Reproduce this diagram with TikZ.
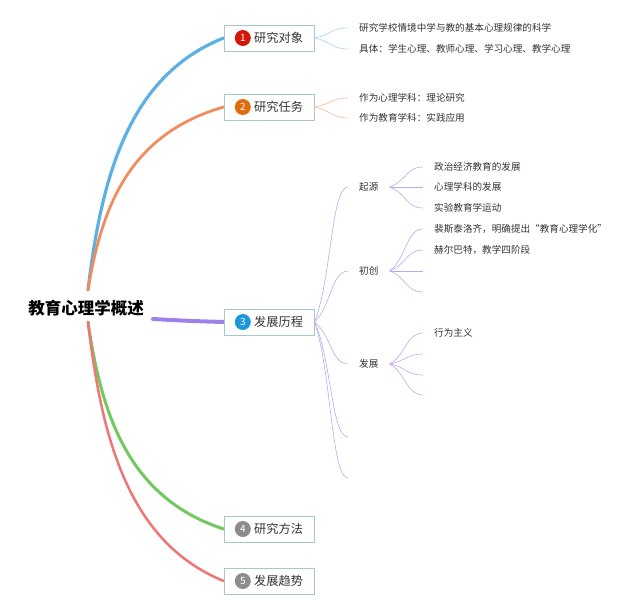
\documentclass[tikz,border=0pt]{standalone}
\usepackage{fontspec}
\setmainfont{Noto Sans CJK SC}
\usetikzlibrary{calc,positioning}
\pgfdeclarelayer{bg}
\pgfsetlayers{bg,main}
\definecolor{txt}{HTML}{333333}
\definecolor{boxLine}{HTML}{A8C8C4}
\definecolor{brBlue}{HTML}{5DB0E3}
\definecolor{brOrange}{HTML}{F28C5E}
\definecolor{brPurple}{HTML}{9C82E8}
\definecolor{brGreen}{HTML}{72C95E}
\definecolor{brRed}{HTML}{F07575}
\definecolor{subBlue}{HTML}{A6D2EE}
\definecolor{subOrange}{HTML}{F5B89E}
\definecolor{subPurple}{HTML}{B9AAF0}
\definecolor{dotRed}{HTML}{D4170A}
\definecolor{dotOrange}{HTML}{E06C0E}
\definecolor{dotBlue}{HTML}{1E96DA}
\definecolor{dotGrey}{HTML}{8C8C8C}
\tikzstyle{topic}=[draw=boxLine,fill=white,line width=0.8pt,minimum width=90pt,minimum height=26pt,inner sep=0pt]
\tikzstyle{numdot}=[circle,inner sep=0pt,minimum size=16pt,text=white,font=\fontsize{10}{10}\selectfont]
\tikzstyle{toptext}=[inner sep=0pt,text=txt,font=\fontsize{12.2}{14}\selectfont]
\tikzstyle{leaf}=[anchor=west,inner xsep=11pt,inner ysep=1pt,text=txt,font=\fontsize{9.6}{11}\selectfont]
\tikzstyle{bigbranch}=[line cap=round,to path={let \p1=(\tikztostart), \p2=(\tikztotarget) in .. controls ({\x1+0.1*(\x2-\x1)},{\y1+0.45*(\y2-\y1)}) and ({\x1+0.3*(\x2-\x1)},{\y1+0.85*(\y2-\y1)}) .. (\tikztotarget)}]
\tikzstyle{twig}=[line width=0.6pt,to path={let \p1=(\tikztostart), \p2=(\tikztotarget) in .. controls ({\x1+0.5*(\x2-\x1)},{\y1+0.3*(\y2-\y1)}) and ({\x1+0.5*(\x2-\x1)},\y2) .. (\tikztotarget)}]
\begin{document}
\begin{tikzpicture}[x=1pt,y=-1pt]
	\useasboundingbox (0,0) rectangle (640,612);
	% root
	\node[inner sep=0pt,text=black,font=\fontsize{16.5}{18}\selectfont\bfseries] (root) at (86,308) {教育心理学概述};
	\coordinate (rtop) at (88,290);
	\coordinate (rbot) at (88,322);
	\coordinate (rmid) at (153,319);
	% topics
	\node[topic] (t1) at (269,38) {};
	\node[topic] (t2) at (269,107) {};
	\node[topic] (t3) at (269,322) {};
	\node[topic] (t4) at (269,529) {};
	\node[topic] (t5) at (269,581) {};
	\node[numdot,fill=dotRed,right=11pt of t1.west] (c1) {1};
	\node[numdot,fill=dotOrange,right=11pt of t2.west] (c2) {2};
	\node[numdot,fill=dotBlue,right=11pt of t3.west] (c3) {3};
	\node[numdot,fill=dotGrey,right=11pt of t4.west] (c4) {4};
	\node[numdot,fill=dotGrey,right=11pt of t5.west] (c5) {5};
	\node[toptext,right=3pt of c1] (l1) {研究对象};
	\node[toptext,right=3pt of c2] (l2) {研究任务};
	\node[toptext,right=3pt of c3] (l3) {发展历程};
	\node[toptext,right=3pt of c4] (l4) {研究方法};
	\node[toptext,right=3pt of c5] (l5) {发展趋势};
	% main branches
	\begin{pgfonlayer}{bg}
		\draw[bigbranch,brBlue,line width=3.2pt] (rtop) to (t1.west);
		\draw[bigbranch,brOrange,line width=2.8pt] (rtop) to (t2.west);
		\draw[bigbranch,brGreen,line width=3pt] (rbot) to (t4.west);
		\draw[bigbranch,brRed,line width=2.5pt] (rbot) to (t5.west);
		\draw[brPurple,line width=4pt,line cap=round] (rmid) .. controls (190,321) .. (t3.west);
	\end{pgfonlayer}
	% topic 1
	\node[leaf] (a1) at (348,28) {研究学校情境中学与教的基本心理规律的科学};
	\node[leaf] (a2) at (348,49) {具体：学生心理、教师心理、学习心理、教学心理};
	\draw[twig,subBlue] (t1.east) to (a1.west);
	\draw[twig,subBlue] (t1.east) to (a2.west);
	% topic 2
	\node[leaf] (b1) at (348,98) {作为心理学科：理论研究};
	\node[leaf] (b2) at (348,118) {作为教育学科：实践应用};
	\draw[twig,subOrange] (t2.east) to (b1.west);
	\draw[twig,subOrange] (t2.east) to (b2.west);
	% topic 3
	\node[leaf] (s1) at (348,187) {起源};
	\node[leaf] (s2) at (348,271) {初创};
	\node[leaf] (s3) at (348,364) {发展};
	\coordinate (e1) at (348,437);
	\coordinate (e2) at (348,478);
	\foreach \k in {s1,s2,s3}
		\draw[twig,subPurple] (t3.east) to (\k.west);
	\foreach \k in {e1,e2}
		\draw[twig,subPurple] (t3.east) to (\k);
	% origin
	\node[leaf] (g1) at (423,167) {政治经济教育的发展};
	\node[leaf] (g2) at (423,187) {心理学科的发展};
	\node[leaf] (g3) at (423,208) {实验教育学运动};
	\foreach \k in {g1,g2,g3}
		\draw[twig,subPurple] (s1.east) to (\k.west);
	% founding
	\node[leaf] (f1) at (423,229) {裴斯泰洛齐，明确提出“教育心理学化”};
	\node[leaf] (f2) at (423,250) {赫尔巴特，教学四阶段};
	\coordinate (f3) at (423,271);
	\coordinate (f4) at (423,292);
	\foreach \k in {f1,f2}
		\draw[twig,subPurple] (s2.east) to (\k.west);
	\foreach \k in {f3,f4}
		\draw[twig,subPurple] (s2.east) to (\k);
	% development
	\node[leaf] (d1) at (423,333) {行为主义};
	\coordinate (d2) at (423,354);
	\coordinate (d3) at (423,375);
	\coordinate (d4) at (423,395);
	\draw[twig,subPurple] (s3.east) to (d1.west);
	\foreach \k in {d2,d3,d4}
		\draw[twig,subPurple] (s3.east) to (\k);
\end{tikzpicture}
\end{document}
